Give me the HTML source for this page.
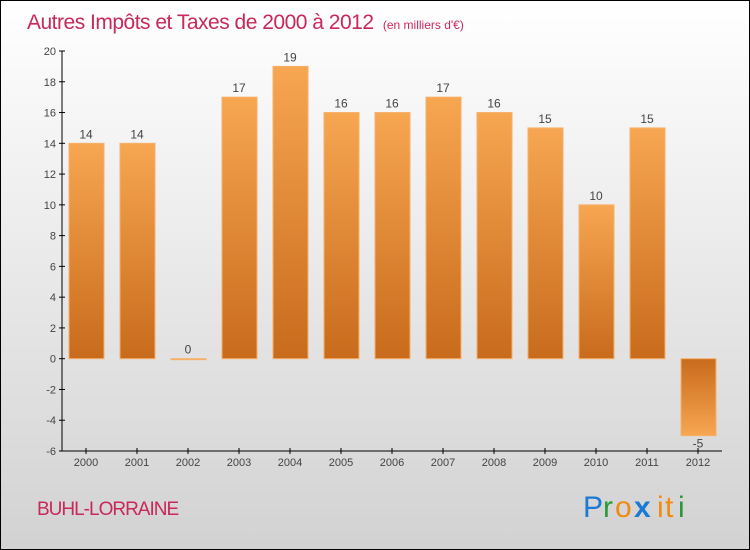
<!DOCTYPE html>
<html><head><meta charset="utf-8"><style>
body{margin:0;background:#fff}
#c{position:relative;width:748px;height:548px;border:1px solid #000;background:linear-gradient(#fff,#d2d2d2);font-family:"Liberation Sans",sans-serif;overflow:hidden}
</style></head><body>
<div id="c">
<svg id="s" width="748" height="548">
<defs>
<linearGradient id="gp" x1="0" y1="0" x2="0" y2="1"><stop offset="0" stop-color="#f7a651"/><stop offset="1" stop-color="#c86b1c"/></linearGradient>
<linearGradient id="gn" x1="0" y1="0" x2="0" y2="1"><stop offset="0" stop-color="#c86b1c"/><stop offset="1" stop-color="#f7a651"/></linearGradient>
</defs>
<text x="26" y="28" font-size="21" fill="#c8285a" letter-spacing="-0.5">Autres Impôts et Taxes de 2000 à 2012 <tspan font-size="12" dx="4" letter-spacing="0">(en milliers d'€)</tspan></text>
<text x="36" y="514" font-size="19" fill="#c8285a" letter-spacing="-1">BUHL-LORRAINE</text>
<g font-size="30" font-family="'Liberation Sans',sans-serif">
<text x="582" y="516" fill="#1a7ad4">P</text><text x="602" y="516" fill="#2a9a3a">r</text><text x="614" y="516" fill="#f08a10">o</text><text x="633" y="516" fill="#1a7ad4" font-weight="bold">x</text><text x="656" y="516" fill="#f08a10">i</text><text x="664" y="516" fill="#f08a10">t</text><text x="677" y="516" fill="#2a9a3a">i</text>
</g>
<g id="plot"></g>
</svg>
</div>
<script>
const categories=["2000","2001","2002","2003","2004","2005","2006","2007","2008","2009","2010","2011","2012"];
const values=[14,14,0,17,19,16,16,17,16,15,10,15,-5];
const yTicks=[-6,-4,-2,0,2,4,6,8,10,12,14,16,18,20];
const ns="http://www.w3.org/2000/svg";
const g=document.getElementById('plot');
const yMin=-6,yMax=20,yTop=50,yBot=450;
const y=v=>yBot-(v-yMin)/(yMax-yMin)*(yBot-yTop);
const x=i=>85+i*51;
function mk(t,a){const e=document.createElementNS(ns,t);for(const k in a)e.setAttribute(k,a[k]);g.appendChild(e);return e;}
let e=mk('line',{x1:61,y1:yTop,x2:61,y2:yBot,stroke:'#000'});


e=mk('line',{x1:61,y1:yBot,x2:721,y2:yBot,stroke:'#000'});


yTicks.forEach(v=>{
  const t=mk('line',{x1:58,y1:y(v),x2:64,y2:y(v),stroke:'#000'});
  
  
  const l=mk('text',{x:55,y:y(v)+4,'font-size':11,fill:'#444','text-anchor':'end'});
  l.textContent=v;
  
  
});
categories.forEach((c,i)=>{
  const v=values[i],cx=x(i);
  const t=mk('line',{x1:cx,y1:yBot-3,x2:cx,y2:yBot+3,stroke:'#000'});
  
  
  const l=mk('text',{x:cx,y:465,'font-size':11,fill:'#444','text-anchor':'middle'});
  l.textContent=c;
  
  
  const y0=y(0),yv=y(v);
  const h=Math.max(Math.abs(yv-y0),1);
  const b=mk('rect',{x:cx-17,y:Math.min(y0,yv),width:35,height:h,fill:v<0?'url(#gn)':'url(#gp)',stroke:'#f7b06a','stroke-width':1});
  
  
  const vl=mk('text',{x:cx,y:v<0?yv+12:yv-5,'font-size':12,fill:'#444','text-anchor':'middle'});
  vl.textContent=v;
  
  
});
</script>
</body></html>
